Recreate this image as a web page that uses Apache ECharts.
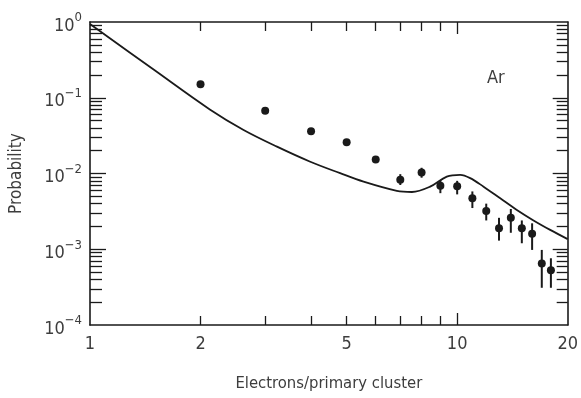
<!DOCTYPE html>
<html style="height: 100%">
<head>
	<meta charset="utf-8">
	<script type="text/javascript" src="https://cdn.jsdelivr.net/npm/echarts@6/dist/echarts.min.js"></script>
</head>
<body style="height: 100%; margin: 0; background: #fff">
<div id="container" style="width: 581px; height: 398px"></div>
<script type="text/javascript">
    // measured points: electrons per primary cluster
    var clusterSize = [2, 3, 4, 5, 6, 7, 8, 9, 10, 11, 12, 13, 14, 15, 16, 17, 18];
    var probability = [0.151, 0.0675, 0.036, 0.0258, 0.0153, 0.0083, 0.0103, 0.0069, 0.0068,
        0.0047, 0.0032, 0.0019, 0.0026, 0.0019, 0.0016, 0.00065, 0.00053];
    // error bar ends (null = bar hidden by the dot)
    var errLow = [null, null, null, null, null, 0.00705, 0.0088, 0.0055, 0.0053,
        0.0035, 0.0024, 0.0013, 0.00165, 0.0012, 0.00098, 0.00031, 0.00031];
    var errHigh = [null, null, null, null, null, 0.0098, 0.0119, 0.0082, 0.0080,
        0.0058, 0.0040, 0.0026, 0.0034, 0.0024, 0.0022, 0.00098, 0.00076];

    // calculated curve
    var curveX = [1, 1.5, 2.12, 2.62, 3.23, 3.98, 4.8, 5.56, 6.85, 7.53, 8.44, 9.37,
        10.19, 10.85, 11.8, 13.1, 14.54, 16.14, 17.92, 20];
    var curveY = [0.94, 0.23, 0.070, 0.0375, 0.0226, 0.0143, 0.0101, 0.0078, 0.0059, 0.0057,
        0.0067, 0.0091, 0.0096, 0.0087, 0.0067, 0.0047, 0.0033, 0.0024, 0.0018, 0.00136];

    var xLabels = [1, 2, 5, 10, 20];
    var xMinorTicks = [2, 3, 4, 5, 6, 7, 8, 9];
    var xMajorTicks = [10];
    var yLabels = [1e-4, 1e-3, 1e-2, 1e-1, 1];
    var yMajorTicks = [1e-3, 1e-2, 1e-1];
    var yMinorTicks = (function () {
        var list = [];
        for (var e = -4; e < 0; e++) {
            for (var m = 2; m <= 9; m++) {
                list.push(m * Math.pow(10, e));
            }
        }
        return list;
    })();

    var FONT = '"Liberation Sans Narrow", "DejaVu Sans Condensed", sans-serif';
    var INK = '#1a1a1a';
    var TEXT = '#3d3d3d';

    function makeX(position, ticks, len, showLine, showLabel) {
        return {
            type: 'log', logBase: 10, min: 1, max: 20, position: position,
            axisLine: {show: showLine, lineStyle: {color: INK, width: 1.6}},
            axisTick: {show: true, inside: true, length: len, customValues: ticks,
                lineStyle: {color: INK, width: 1.3}},
            axisLabel: showLabel ? {
                customValues: xLabels, margin: 10, color: TEXT,
                fontFamily: FONT, fontSize: 18
            } : {show: false},
            splitLine: {show: false}
        };
    }

    function makeY(position, ticks, len, showLine, showLabel) {
        return {
            type: 'log', logBase: 10, min: 1e-4, max: 1, position: position,
            axisLine: {show: showLine, lineStyle: {color: INK, width: 1.6}},
            axisTick: {show: true, inside: true, length: len, customValues: ticks,
                lineStyle: {color: INK, width: 1.3}},
            axisLabel: showLabel ? {
                customValues: yLabels, margin: 8,
                formatter: function (v) {
                    var e = Math.round(Math.log(v) / Math.LN10);
                    return '{b|10}{s|' + (e < 0 ? '−' + (-e) : e) + '}';
                },
                rich: {
                    b: {fontFamily: FONT, fontSize: 18, color: TEXT, padding: [8, 0, 0, 0]},
                    s: {fontFamily: FONT, fontSize: 13, color: TEXT, padding: [0, 0, 8, 0]}
                }
            } : {show: false},
            splitLine: {show: false}
        };
    }

    var scatterData = clusterSize.map(function (n, i) { return [n, probability[i]]; });
    var errData = [];
    clusterSize.forEach(function (n, i) {
        if (errLow[i] != null) errData.push([n, errLow[i], errHigh[i]]);
    });
    var curveData = curveX.map(function (x, i) { return [x, curveY[i]]; });

    var dom = document.getElementById("container");
    var myChart = echarts.init(dom);
    var option = {
        backgroundColor: '#fff',
        animation: false,
        grid: {left: 90, right: 13, top: 22, bottom: 73},
        xAxis: [
            Object.assign(makeX('bottom', xMinorTicks, 9, true, true), {
                name: 'Electrons/primary cluster', nameLocation: 'middle', nameGap: 50,
                nameTextStyle: {fontFamily: FONT, fontSize: 16.5, color: TEXT}
            }),
            makeX('bottom', xMajorTicks, 12, false, false),
            makeX('top', xMinorTicks, 9, true, false),
            makeX('top', xMajorTicks, 12, false, false)
        ],
        yAxis: [
            Object.assign(makeY('left', yMinorTicks, 12, true, true), {
                name: 'Probability', nameLocation: 'middle', nameGap: 65,
                nameTextStyle: {fontFamily: FONT, fontSize: 17, color: TEXT}
            }),
            makeY('left', yMajorTicks, 16, false, false),
            makeY('right', yMinorTicks, 11, true, false),
            makeY('right', yMajorTicks, 15, false, false)
        ],
        graphic: [{
            type: 'text', left: 487, top: 69,
            style: {text: 'Ar', fontFamily: FONT, fontSize: 18, fill: TEXT}
        }],
        series: [
            {
                type: 'line', data: curveData, smooth: 0.35, symbol: 'none',
                lineStyle: {color: INK, width: 1.8}, z: 2
            },
            {
                type: 'custom', data: errData, z: 3,
                renderItem: function (params, api) {
                    var x = api.value(0);
                    var p1 = api.coord([x, api.value(1)]);
                    var p2 = api.coord([x, api.value(2)]);
                    return {
                        type: 'line',
                        shape: {x1: p1[0], y1: p1[1], x2: p2[0], y2: p2[1]},
                        style: {stroke: INK, lineWidth: 2}
                    };
                }
            },
            {
                type: 'scatter', data: scatterData, symbolSize: 8, z: 4,
                itemStyle: {color: INK, opacity: 1}
            }
        ]
    };

    if (option && typeof option === "object") {
        myChart.setOption(option, true);
    }
</script>
</body>
</html>
